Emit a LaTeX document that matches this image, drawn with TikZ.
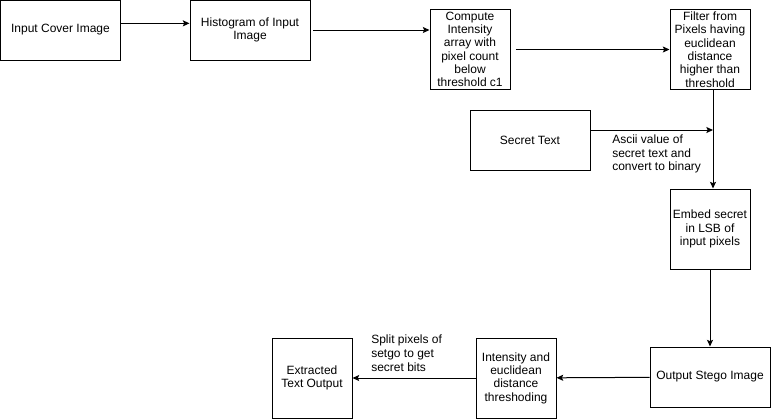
\documentclass[tikz,border=0pt]{standalone}
\usepackage{fontspec}
\setmainfont{Liberation Sans}
\usetikzlibrary{arrows,arrows.meta,positioning,calc}

\begin{document}
\begin{tikzpicture}[x=0.75pt,y=-0.75pt,
  box/.style={draw=black, line width=0.75pt, align=center, font=\fontsize{9}{10}\selectfont},
  wide/.style={box, inner sep=1pt, minimum width=90pt, minimum height=45pt},
  tall/.style={box, inner sep=0.5pt, minimum width=60pt, minimum height=60pt},
  note/.style={align=left, inner sep=0pt, font=\fontsize{9}{10.4}\selectfont},
  flow/.style={-{Stealth[length=5pt,width=4.5pt,inset=1pt]}, line width=0.75pt}]
  \useasboundingbox (0,0) rectangle (771,419);

  \node (cover) [wide] at (60.5,30) {Input Cover Image};
  \node (hist) [wide] at (250,30) {Histogram of Input\\Image};
  \node (comp) [tall] at (470,49.5) {Compute\\Intensity\\array with\\pixel count\\below\\threshold c1};
  \node (filt) [tall] at (710,49.5) {Filter from\\Pixels having\\euclidean\\distance\\higher than\\threshold};
  \node (secret) [wide] at (530,140) {Secret Text};
  \node (embed) [tall] at (710,229) {Embed secret\\in LSB of\\input pixels};
  \node (stego) [wide] at (710,377) {Output Stego Image};
  \node (inten) [tall] at (516,378) {Intensity and\\euclidean\\distance\\threshoding};
  \node (extract) [tall] at (312,378) {Extracted\\Text Output};
  \coordinate (merge) at (713,130);

  \node (asciinote) [note, anchor=west] at (612,154) {Ascii value of\\secret text and\\convert to binary};
  \node (splitnote) [note, anchor=west] at (371,353) {Split pixels of\\setgo to get\\secret bits};

  \draw [flow] ([yshift=5pt]cover.east) -- ([yshift=5pt]hist.west);
  \draw [flow] ([xshift=2pt]hist.east) -- (hist.east -| comp.west);
  \draw [flow, shorten <=4pt] (comp) -- (filt);
  \draw [flow] ([xshift=2.25pt]filt.south) -- ([xshift=2.25pt]embed.north);
  \draw [flow] (secret.east |- merge) -- (merge);
  \draw [flow] (embed) -- (stego);
  \draw [flow] (stego) -- (inten);
  \draw [flow] (inten) -- (extract);
\end{tikzpicture}
\end{document}
